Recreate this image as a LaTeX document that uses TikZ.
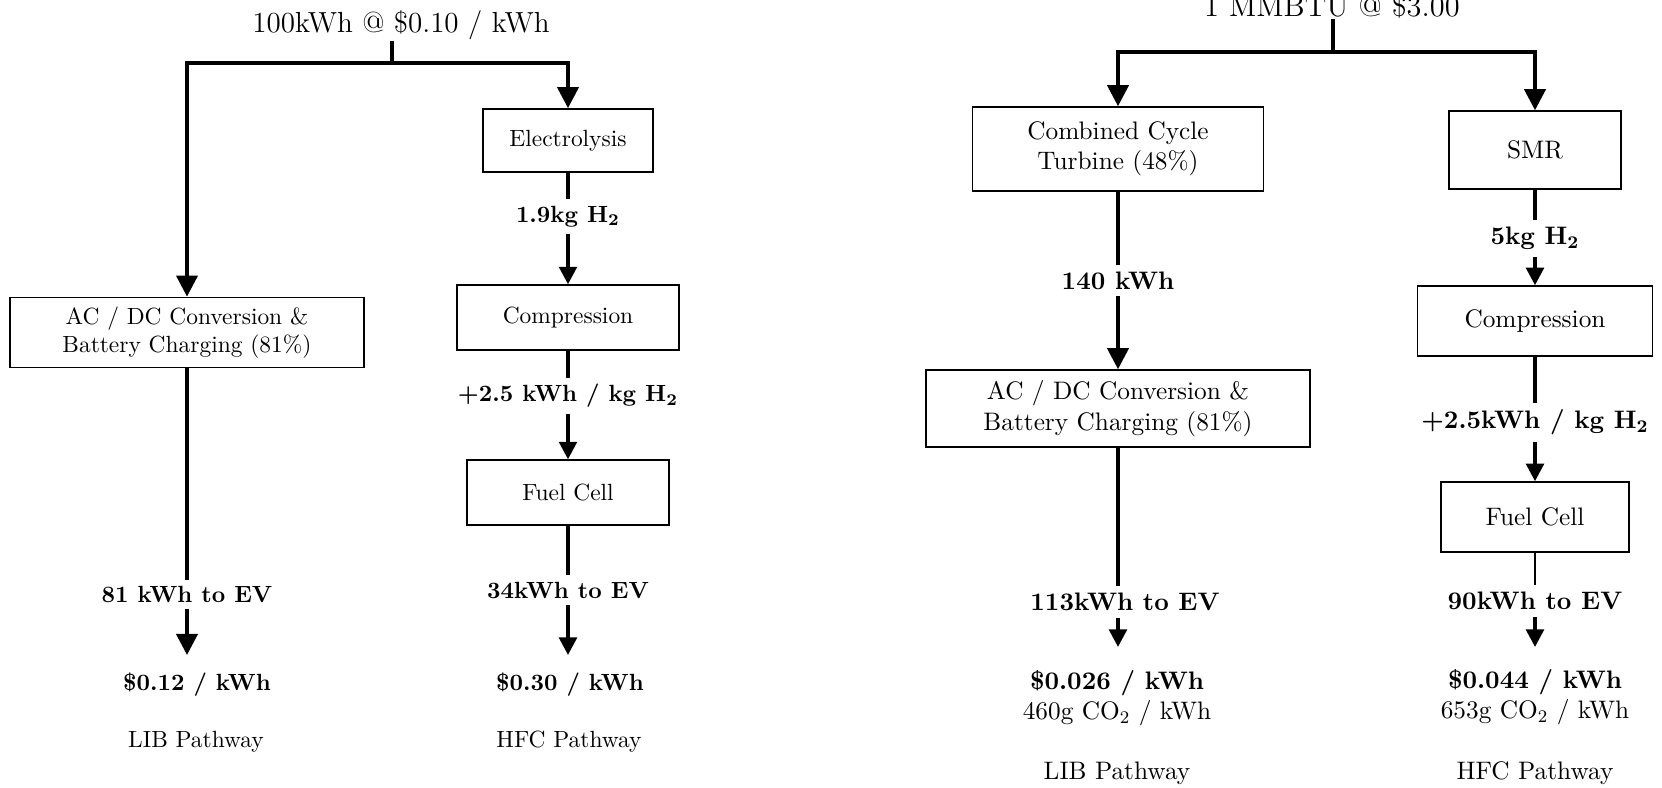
\documentclass[tikz,border=0pt]{standalone}
\usetikzlibrary{arrows.meta}
\begin{document}
\begin{tikzpicture}
    [
        x=0.015cm, y=-0.015cm,
        box/.style={rectangle, draw=black, line width=0.6pt, align=center, inner sep=0pt},
        boxR/.style={box, font=\fontsize{10.8}{13}\selectfont},
        lbl/.style={font=\bfseries, inner sep=2.6pt},
        lblR/.style={inner sep=2.8pt, font=\fontsize{10.8}{13}\selectfont\bfseries},
        txtR/.style={align=center, font=\fontsize{10.8}{13}\selectfont},
        flow/.style={line width=1.6pt},
        thinflow/.style={line width=1.1pt},
        tip/.style={-{Triangle[length=7.5pt, width=7.5pt]}},
        bigtip/.style={-{Triangle[length=9pt, width=9pt]}}
    ]
    \useasboundingbox (0,0) rectangle (1662,788);
    % Grid electricity
    \node[anchor=base, inner sep=0pt, font=\fontsize{12.4}{15}\selectfont] (titleL) at (401,33) {100kWh @ \$0.10 / kWh};
    \coordinate (splitL) at (392,63);
    \draw[flow] (titleL.south -| splitL) -- (splitL);
    % LIB (grid)
    \node[box, minimum width=151pt, minimum height=30pt] (acdcL) at (187,332.5) {AC / DC Conversion \&\\Battery Charging (81\%)};
    \draw[flow, bigtip] (splitL) -| (acdcL.north);
    \node[lbl] (evL) at (187,594.5) {81 kWh to EV};
    \coordinate (endL) at (187,655);
    \draw[flow] (acdcL) -- (evL);
    \draw[flow, bigtip] (evL) -- (endL);
    \node[font=\bfseries] (costL) at (197,685) {\$0.12 / kWh};
    \node (pathL) at (196,742) {LIB Pathway};
    % HFC (grid)
    \node[box, minimum width=72.6pt, minimum height=27pt] (elec) at (568,140.5) {Electrolysis};
    \draw[flow, bigtip] (splitL) -| (elec.north);
    \node[lbl] (h2L) at (568,216.5) {1.9kg H\textsubscript{2}};
    \node[box, minimum width=94.7pt, minimum height=27.7pt] (compL) at (568,317.5) {Compression};
    \draw[flow] (elec) -- (h2L);
    \draw[flow, tip] (h2L) -- (compL);
    \node[lbl] (kgL) at (568,396) {+2.5 kWh / kg H\textsubscript{2}};
    \node[box, minimum width=86.2pt, minimum height=27.7pt] (fuelL) at (568,492.5) {Fuel Cell};
    \draw[flow] (compL) -- (kgL);
    \draw[flow, tip] (kgL) -- (fuelL);
    \node[lbl] (evH) at (568,590) {34kWh to EV};
    \coordinate (endH) at (568,655);
    \draw[flow] (fuelL) -- (evH);
    \draw[flow, tip] (evH) -- (endH);
    \node[font=\bfseries] (costH) at (570,685) {\$0.30 / kWh};
    \node (pathH) at (569,742) {HFC Pathway};
    % Natural gas
    \node[anchor=base, inner sep=0pt, font=\fontsize{13}{15}\selectfont] (titleR) at (1332,17) {1 MMBTU @ \$3.00};
    \coordinate (splitR) at (1333,52);
    \draw[flow] (titleR.south -| splitR) -- (splitR);
    % LIB (gas)
    \node[boxR, minimum width=124.2pt, minimum height=35.9pt] (cct) at (1118,149) {Combined Cycle\\Turbine (48\%)};
    \draw[flow, bigtip] (splitR) -| (cct.north);
    \node[lblR] (kwh) at (1118,280.5) {140 kWh};
    \node[boxR, minimum width=163.9pt, minimum height=32.9pt] (acdcR) at (1118,408.5) {AC / DC Conversion \&\\Battery Charging (81\%)};
    \draw[flow] (cct) -- (kwh);
    \draw[flow, bigtip] (kwh) -- (acdcR);
    \node[lblR] (evLR) at (1125,602) {113kWh to EV};
    \coordinate (endLR) at (1118,647);
    \draw[flow] (acdcR.south) -- (acdcR.south |- evLR.north);
    \draw[flow, tip] (acdcR.south |- evLR.south) -- (endLR);
    \node[txtR] (costLR) at (1117,698) {\textbf{\$0.026 / kWh}\\460g CO\textsubscript{2} / kWh};
    \node[txtR] (pathLR) at (1117,773) {LIB Pathway};
    % HFC (gas)
    \node[boxR, minimum width=73.4pt, minimum height=33.3pt] (smr) at (1535,150) {SMR};
    \draw[flow, bigtip] (splitR) -| (smr.north);
    \node[lblR] (h2R) at (1535,238.5) {5kg H\textsubscript{2}};
    \node[boxR, minimum width=100.3pt, minimum height=29.9pt] (compR) at (1535,321) {Compression};
    \draw[flow] (smr) -- (h2R);
    \draw[flow, tip] (h2R) -- (compR);
    \node[lblR] (kgR) at (1535,422.5) {+2.5kWh / kg H\textsubscript{2}};
    \node[boxR, minimum width=80.2pt, minimum height=29.9pt] (fuelR) at (1535,517) {Fuel Cell};
    \draw[flow] (compR) -- (kgR);
    \draw[flow, tip] (kgR) -- (fuelR);
    \node[lblR] (evHR) at (1535,601) {90kWh to EV};
    \coordinate (endHR) at (1535,647);
    \draw[thinflow] (fuelR) -- (evHR);
    \draw[flow, tip] (evHR) -- (endHR);
    \node[txtR] (costHR) at (1535,697) {\textbf{\$0.044 / kWh}\\653g CO\textsubscript{2} / kWh};
    \node[txtR] (pathHR) at (1535,773) {HFC Pathway};
\end{tikzpicture}
\end{document}
